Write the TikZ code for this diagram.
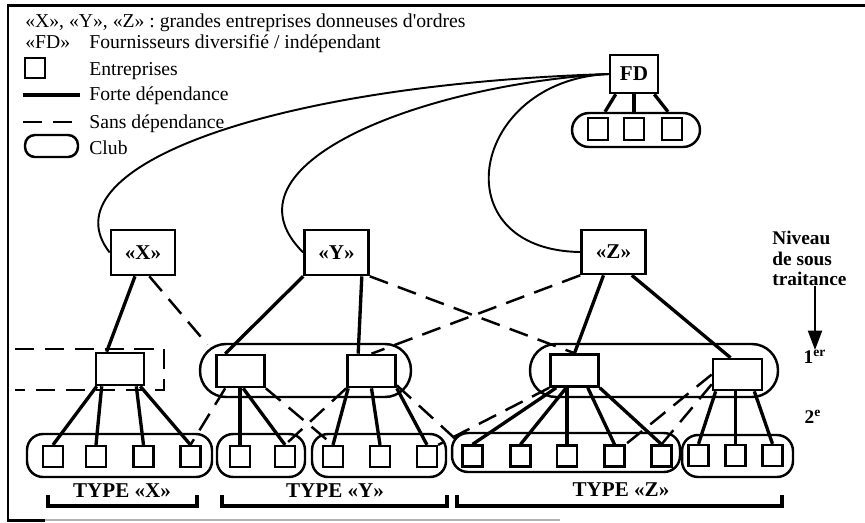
\documentclass[tikz,border=0pt]{standalone}
\usepackage{fontspec}
\setmainfont{Liberation Serif}
\usetikzlibrary{calc,arrows.meta}

\begin{document}
\begin{tikzpicture}[x=0.02cm, y=-0.02cm,
            grand/.style={rectangle, draw, line width=1.5pt, minimum width=1.28cm, minimum height=0.9cm, inner sep=0pt, font=\bfseries\fontsize{12}{14}\selectfont},
            premier/.style={rectangle, draw, line width=1.5pt, minimum width=0.96cm, minimum height=0.64cm, inner sep=0pt},
            ent/.style={rectangle, draw, line width=1.3pt, minimum width=0.4cm, minimum height=0.42cm, inner sep=0pt},
            club/.style={rectangle, draw, line width=1.4pt, rounded corners=0.32cm, inner sep=0pt},
            forte/.style={line width=1.9pt},
            sans/.style={line width=1.4pt, dash pattern=on 11pt off 6pt},
            courbe/.style={line width=1.1pt},
            legende/.style={anchor=base west, inner sep=0pt, font=\fontsize{11.2}{13}\selectfont},
            typelbl/.style={inner sep=0pt, font=\bfseries\fontsize{12}{14}\selectfont},
            niveaulbl/.style={inner sep=0pt, font=\bfseries\fontsize{11}{11.6}\selectfont}
        ]
            \useasboundingbox (0,0) rectangle (865,522);
            % cadre
            \draw[line width=1.7pt] (865,5) -- (8,5) -- (8,520) -- (45,520);
            \draw[line width=1pt, black!30] (45,520) -- (560,520);

            % legende
            \node(leg1) at (25,27) [legende] {«X», «Y», «Z» : grandes entreprises donneuses d\textquotesingle ordres};
            \node(leg2) at (25,48) [legende] {«FD»};
            \node(leg3) at (89,48) [legende] {Fournisseurs diversifié / indépendant};
            \node(legent) at (35,68) [ent, minimum height=0.4cm] {};
            \node(leg4) at (89,75) [legende] {Entreprises};
            \draw[forte] (23,95) -- (80,95);
            \node(leg5) at (89,100) [legende] {Forte dépendance};
            \draw[sans] (23,122) -- (80,122);
            \node(leg6) at (89,128) [legende] {Sans dépendance};
            \node(legclub) at (51.5,146) [club, minimum width=1.06cm, minimum height=0.44cm, rounded corners=0.2cm] {};
            \node(leg7) at (89,154) [legende] {Club};

            % donneurs d'ordres
            \node(fd) at (634,74) [grand, minimum width=0.96cm, minimum height=0.76cm] {FD};
            \node(gx) at (143,252.5) [grand] {«X»};
            \node(gy) at (336.5,252.5) [grand] {«Y»};
            \node(gz) at (613.5,252) [grand, minimum height=0.88cm] {«Z»};

            % clubs
            \node(clubfd) at (636,130) [club, minimum width=2.56cm, minimum height=0.68cm, rounded corners=0.34cm] {};
            \node(cluby) at (305.5,370.5) [club, minimum width=4.22cm, minimum height=1.06cm, rounded corners=0.52cm] {};
            \node(clubz) at (654,370.5) [club, minimum width=4.96cm, minimum height=1.06cm, rounded corners=0.52cm] {};
            \node(clubxb) at (119.5,455.5) [club, minimum width=3.7cm, minimum height=0.86cm] {};
            \node(clubya) at (261,455.5) [club, minimum width=1.76cm, minimum height=0.86cm] {};
            \node(clubyb) at (379,455.5) [club, minimum width=2.68cm, minimum height=0.86cm] {};
            \node(clubza) at (566,452.5) [club, minimum width=4.56cm, minimum height=0.78cm] {};
            \node(clubzb) at (737.5,456) [club, minimum width=2.22cm, minimum height=0.84cm] {};
            \draw[sans] (15,349) -- (164,349) -- (164,390) -- (15,390);

            % FD
            \node(fda) at (598,129) [ent, minimum height=0.44cm] {};
            \node(fdb) at (634,129) [ent, minimum height=0.44cm] {};
            \node(fdc) at (672,129) [ent, minimum height=0.44cm] {};

            % 1er niveau
            \node(x1) at (120,369) [premier] {};
            \node(y1a) at (240.5,371) [premier] {};
            \node(y1b) at (371.5,371) [premier] {};
            \node(z1a) at (574.5,370.5) [premier] {};
            \node(z1b) at (737.5,374.5) [premier, minimum width=0.98cm, minimum height=0.62cm] {};

            % 2e niveau
            \node(xa) at (53,456.5) [ent] {};
            \node(xb) at (96,456.5) [ent] {};
            \node(xc) at (143.5,456.5) [ent] {};
            \node(xd) at (190.5,456.5) [ent] {};
            \node(ya) at (240,456.5) [ent] {};
            \node(yb) at (285,456.5) [ent] {};
            \node(yc) at (333,456.5) [ent] {};
            \node(yd) at (380,456.5) [ent] {};
            \node(ye) at (427,456.5) [ent] {};
            \node(za) at (472.5,456) [ent] {};
            \node(zb) at (520.5,456) [ent] {};
            \node(zc) at (567,456) [ent] {};
            \node(zd) at (614.5,456) [ent] {};
            \node(ze) at (661.5,456) [ent] {};
            \node(zf) at (698.5,455.5) [ent] {};
            \node(zg) at (735.5,455.5) [ent] {};
            \node(zh) at (772.5,455.5) [ent] {};

            % liens FD
            \draw[courbe] (fd.west) .. controls (260,85) and (45,170) .. (gx.west);
            \draw[courbe] (fd.west) .. controls (420,85) and (215,165) .. (gy.west);
            \draw[courbe] (fd.west) .. controls (470,80) and (440,250) .. (gz.west);
            \draw[forte] ($(fd.south west)+(7,0)$) -- ($(clubfd.north)+(-31,0)$);
            \draw[forte] (fd.south) -- (fd.south |- clubfd.north);
            \draw[forte] ($(fd.south east)+(-5,0)$) -- ($(clubfd.north)+(32,0)$);

            % liens vers le 1er niveau
            \draw[forte] ($(gx.south)+(-8,0)$) -- ($(x1.north west)+(12,0)$);
            \draw[sans, shorten >=0.24cm] ($(gx.south east)+(-27,0)$) -- (y1a.north west);
            \draw[forte] (gy.south west) -- ($(y1a.north west)+(10,0)$);
            \draw[forte] ($(gy.south east)+(-8,0)$) -- ($(y1b.north west)+(12,0)$);
            \draw[sans] (gy.south east) -- (z1a.north);
            \draw[sans] (gz.south west) -- (y1b.north);
            \draw[forte] ($(gz.south)+(-10,0)$) -- (z1a.north);
            \draw[forte] ($(gz.south east)+(-15,0)$) -- ($(z1b.north)+(-7,0)$);

            % liens vers le 2e niveau
            \draw[forte] ($(x1.south west)+(2,0)$) -- (xa.north);
            \draw[forte] ($(x1.south west)+(7,0)$) -- (xb.north);
            \draw[forte] ($(x1.south east)+(-9,0)$) -- (xc.north);
            \draw[forte] ($(x1.south east)+(-5,0)$) -- (xd.north);
            \draw[sans] ($(y1a.south west)+(10,0)$) -- (xd.north);
            \draw[forte] (ya.north |- y1a.south) -- (ya.north);
            \draw[forte] ($(y1a.south west)+(28,0)$) -- (yb.north);
            \draw[sans] (y1a.south east) -- (yc.north);
            \draw[sans] (y1b.south west) -- (yb.north);
            \draw[forte] ($(y1b.south west)+(2,0)$) -- (yc.north);
            \draw[forte] (y1b.south) -- (yd.north);
            \draw[forte] (y1b.south east) -- (ye.north);
            \draw[sans] ($(y1b.south east)+(0,-3)$) -- (za.north west);
            \draw[sans] (z1a.south west) -- (ye.north east);
            \draw[forte] ($(z1a.south west)+(7,0)$) -- (za.north);
            \draw[forte] ($(z1a.south west)+(17,0)$) -- (zb.north);
            \draw[forte] (zc.north |- z1a.south) -- (zc.north);
            \draw[forte] ($(z1a.south east)+(-12,0)$) -- (zd.north);
            \draw[forte] (z1a.south east) -- (ze.north);
            \draw[sans] (z1b.west) -- (zd.north east);
            \draw[sans] ($(z1b.south west)+(0,-7)$) -- (ze.north);
            \draw[forte] ($(z1b.south west)+(4,0)$) -- (zf.north);
            \draw[forte] (zg.north |- z1b.south) -- (zg.north);
            \draw[forte] ($(z1b.south east)+(-9,0)$) -- (zh.north);

            % types
            \draw[forte] (48,495) -- (48,506) -- (197,506) -- (197,495);
            \draw[forte] (222,495) -- (222,506) -- (447,506) -- (447,495);
            \draw[forte] (457,495) -- (457,506) -- (782,506) -- (782,495);
            \node(typex) at (122,491) [typelbl] {TYPE «X»};
            \node(typey) at (335,491) [typelbl] {TYPE «Y»};
            \node(typez) at (621,490) [typelbl] {TYPE «Z»};

            % niveaux
            \node(niveau) at (772,231) [niveaulbl, anchor=north west, align=left] {Niveau\\de sous\\traitance};
            \node(premier) at (815,357) [niveaulbl] {1\textsuperscript{er}};
            \node(second) at (813,417) [niveaulbl] {2\textsuperscript{e}};
            \draw[line width=1.1pt, -{Triangle[width=8pt, length=11pt]}] (premier.north |- niveau.south) -- (premier.north);
        \end{tikzpicture}
\end{document}
